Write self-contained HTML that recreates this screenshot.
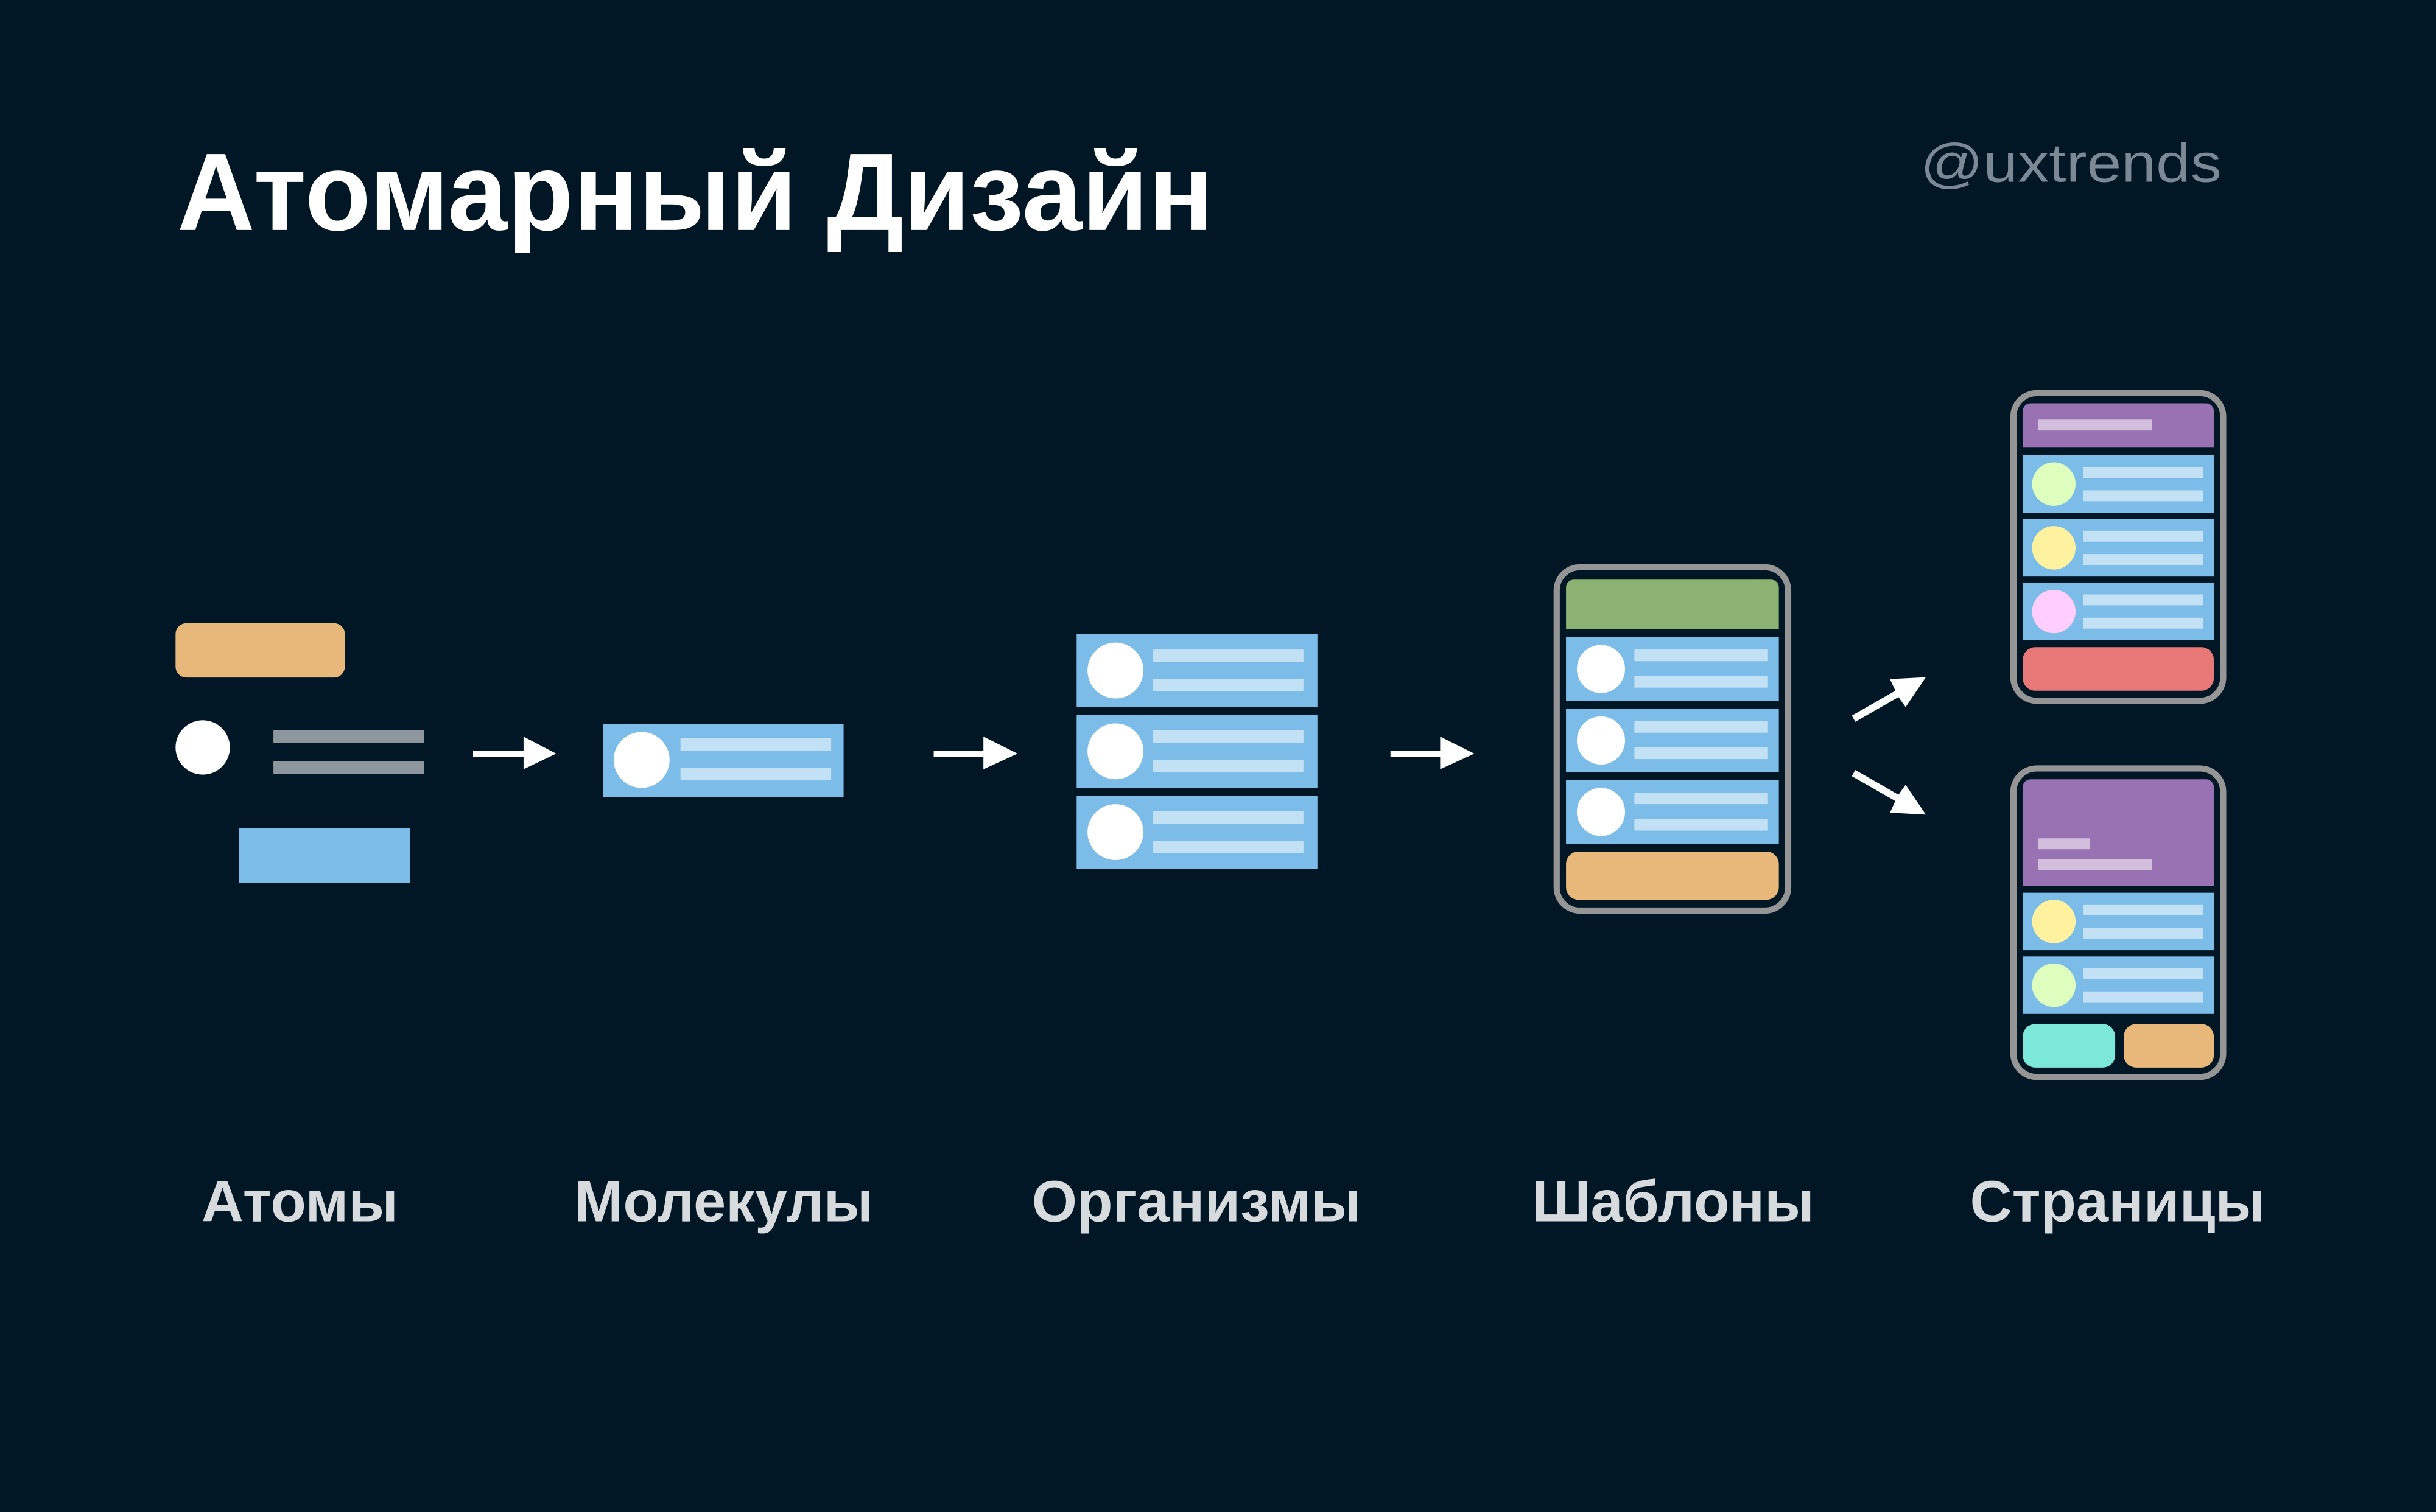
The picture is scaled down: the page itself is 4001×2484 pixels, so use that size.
<!DOCTYPE html>
<html><head><meta charset="utf-8"><style>
html,body{margin:0;padding:0;background:#011726;}
svg{display:block;}
text{font-family:"Liberation Sans",sans-serif;font-weight:bold;}
</style></head><body>
<svg width="4001" height="2484" viewBox="0 0 1568 973" preserveAspectRatio="none" xmlns="http://www.w3.org/2000/svg">
<rect width="1568" height="973" fill="#011726"/>
<text x="114" y="148" font-size="71" fill="#ffffff" textLength="667" lengthAdjust="spacingAndGlyphs">Атомарный Дизайн</text>
<text x="1236" y="117" font-size="35" fill="#7c8893" style="font-weight:normal" textLength="194" lengthAdjust="spacingAndGlyphs">@uxtrends</text>

<!-- atoms -->
<rect x="113" y="401" width="109" height="35" rx="7" fill="#e8b87a"/>
<circle cx="130.5" cy="481" r="17.5" fill="#fff"/>
<rect x="176" y="470" width="97" height="8" fill="#8e969e"/>
<rect x="176" y="490" width="97" height="8" fill="#8e969e"/>
<rect x="154" y="533" width="110" height="35" fill="#7bbde8"/>

<!-- horizontal arrows -->
<g fill="#fff">
<rect x="304.5" y="483" width="34" height="4"/><polygon points="337,474 358,485 337,495"/>
<rect x="601" y="483" width="34" height="4"/><polygon points="633,474 655,485 633,495"/>
<rect x="895" y="483" width="34" height="4"/><polygon points="927,474 949,485 927,495"/>
</g>

<!-- molecule -->
<rect x="388" y="466" width="155" height="47" fill="#7bbde8"/>
<circle cx="413" cy="489" r="18" fill="#fff"/>
<rect x="438" y="475" width="97" height="8" fill="#c2e1f5"/>
<rect x="438" y="494" width="97" height="8" fill="#c2e1f5"/>

<!-- organism -->
<g>
<rect x="693" y="408" width="155" height="47" fill="#7bbde8"/>
<circle cx="718" cy="431.5" r="18" fill="#fff"/>
<rect x="742" y="418" width="97" height="8" fill="#c2e1f5"/>
<rect x="742" y="437" width="97" height="8" fill="#c2e1f5"/>
<rect x="693" y="460" width="155" height="47" fill="#7bbde8"/>
<circle cx="718" cy="483.5" r="18" fill="#fff"/>
<rect x="742" y="470" width="97" height="8" fill="#c2e1f5"/>
<rect x="742" y="489" width="97" height="8" fill="#c2e1f5"/>
<rect x="693" y="512" width="155" height="47" fill="#7bbde8"/>
<circle cx="718" cy="535.5" r="18" fill="#fff"/>
<rect x="742" y="522" width="97" height="8" fill="#c2e1f5"/>
<rect x="742" y="541" width="97" height="8" fill="#c2e1f5"/>
</g>

<!-- template -->
<rect x="1002" y="365" width="149" height="221" rx="15" fill="none" stroke="#959595" stroke-width="4"/>
<path d="M1008,378 a5,5 0 0 1 5,-5 h127 a5,5 0 0 1 5,5 v27 h-137z" fill="#8bb270"/>
<rect x="1008" y="410" width="137" height="41" fill="#7bbde8"/>
<circle cx="1030.5" cy="430.5" r="15.5" fill="#fff"/>
<rect x="1052" y="418" width="86" height="7.5" fill="#c2e1f5"/>
<rect x="1052" y="435" width="86" height="7.5" fill="#c2e1f5"/>
<rect x="1008" y="456" width="137" height="41" fill="#7bbde8"/>
<circle cx="1030.5" cy="476.5" r="15.5" fill="#fff"/>
<rect x="1052" y="464" width="86" height="7.5" fill="#c2e1f5"/>
<rect x="1052" y="481" width="86" height="7.5" fill="#c2e1f5"/>
<rect x="1008" y="502" width="137" height="41" fill="#7bbde8"/>
<circle cx="1030.5" cy="522.5" r="15.5" fill="#fff"/>
<rect x="1052" y="510" width="86" height="7.5" fill="#c2e1f5"/>
<rect x="1052" y="527" width="86" height="7.5" fill="#c2e1f5"/>
<rect x="1008" y="548" width="137" height="31" rx="8" fill="#e8b87a"/>

<!-- diagonal arrows -->
<g fill="#fff">
<polygon points="1192,460.5 1194.2,464.5 1222,448.6 1226.6,455 1239.6,435.8 1216.5,437 1220,444.5"/>
<polygon points="1192,499.5 1194.2,495.5 1222,511.4 1226.6,505 1239.6,524.2 1216.5,523 1220,515.5"/>
</g>

<!-- page 1 -->
<rect x="1296" y="253" width="135" height="198" rx="15" fill="none" stroke="#959595" stroke-width="4"/>
<path d="M1302,264.5 a5,5 0 0 1 5,-5 h113 a5,5 0 0 1 5,5 v23.5 h-123z" fill="#9872b3"/>
<rect x="1312" y="270" width="73" height="7" fill="#d2bfdd"/>
<rect x="1302" y="293" width="123" height="37" fill="#7bbde8"/>
<circle cx="1322" cy="311.5" r="14" fill="#ddfebd"/>
<rect x="1341" y="300.5" width="77" height="7" fill="#c2e1f5"/>
<rect x="1341" y="315.5" width="77" height="7" fill="#c2e1f5"/>
<rect x="1302" y="334" width="123" height="37" fill="#7bbde8"/>
<circle cx="1322" cy="352.5" r="14" fill="#fff29e"/>
<rect x="1341" y="341.5" width="77" height="7" fill="#c2e1f5"/>
<rect x="1341" y="356.5" width="77" height="7" fill="#c2e1f5"/>
<rect x="1302" y="375" width="123" height="37" fill="#7bbde8"/>
<circle cx="1322" cy="393.5" r="14" fill="#ffcefe"/>
<rect x="1341" y="382.5" width="77" height="7" fill="#c2e1f5"/>
<rect x="1341" y="397.5" width="77" height="7" fill="#c2e1f5"/>
<rect x="1302" y="416.5" width="123" height="28" rx="8" fill="#e87878"/>

<!-- page 2 -->
<rect x="1296" y="494.5" width="135" height="198.5" rx="15" fill="none" stroke="#959595" stroke-width="4"/>
<path d="M1302,506.5 a5,5 0 0 1 5,-5 h113 a5,5 0 0 1 5,5 v63.5 h-123z" fill="#9872b3"/>
<rect x="1312" y="539.5" width="33" height="7" fill="#d2bfdd"/>
<rect x="1312" y="553" width="73" height="7" fill="#d2bfdd"/>
<rect x="1302" y="574.5" width="123" height="37" fill="#7bbde8"/>
<circle cx="1322" cy="593" r="14" fill="#fff29e"/>
<rect x="1341" y="582" width="77" height="7" fill="#c2e1f5"/>
<rect x="1341" y="597" width="77" height="7" fill="#c2e1f5"/>
<rect x="1302" y="615.5" width="123" height="37" fill="#7bbde8"/>
<circle cx="1322" cy="634" r="14" fill="#ddfebd"/>
<rect x="1341" y="623" width="77" height="7" fill="#c2e1f5"/>
<rect x="1341" y="638" width="77" height="7" fill="#c2e1f5"/>
<rect x="1302" y="659" width="59.5" height="28" rx="8" fill="#7be8da"/>
<rect x="1367" y="659" width="58" height="28" rx="8" fill="#e8b87a"/>

<!-- labels -->
<g font-size="37.5" fill="#d8dbde" text-anchor="middle">
<text x="193" y="786">Атомы</text>
<text x="466" y="786">Молекулы</text>
<text x="770" y="786">Организмы</text>
<text x="1077" y="786">Шаблоны</text>
<text x="1363" y="786">Страницы</text>
</g>
</svg>
</body></html>
